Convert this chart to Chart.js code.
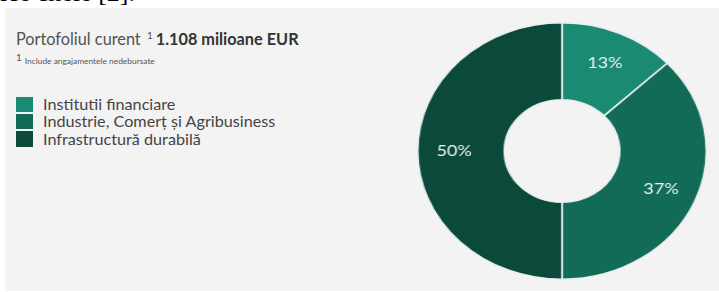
<!DOCTYPE html>
<html>
<head>
<meta charset="utf-8">
<script src="https://cdn.jsdelivr.net/npm/chart.js@4.4.0/dist/chart.umd.min.js"></script>
<style>
    html, body { margin: 0; padding: 0; background: #fff; }
    body { width: 719px; height: 292px; position: relative; overflow: hidden; font-family: Lato, sans-serif; }
    .top-text { position: absolute; left: 0; top: -22px; font: 26px/29px "Liberation Serif", serif; color: #000; white-space: nowrap; }
    .panel { position: absolute; left: 5px; top: 8px; width: 714px; height: 283px; background: #f3f3f3; }
    .title { position: absolute; left: 16px; top: 29px; font-size: 16.3px; color: #525252; white-space: nowrap; }
    .title sup { font-size: 10px; vertical-align: 6px; margin: 0 3px 0 2px; }
    .title b { color: #333; font-weight: 700; }
    .note { position: absolute; left: 16px; top: 51px; font-size: 8.4px; color: #555; white-space: nowrap; }
    .note sup { font-size: 10px; vertical-align: 3px; margin-right: 3px; }
    .legend { position: absolute; left: 16px; top: 95px; }
    .legend div { height: 17.3px; line-height: 17.3px; font-size: 16.2px; color: #444; white-space: nowrap; }
    .legend span { display: inline-block; width: 17px; height: 15.5px; vertical-align: -2px; margin-right: 10px; }
    .chart-box { position: absolute; left: 432.5px; top: 21.5px; width: 258px; height: 258px; transform: scaleX(1.125); transform-origin: 50% 50%; }
</style>
</head>
<body>
<div class="top-text">ice cheie [2].</div>
<div class="panel"></div>
<div class="title">Portofoliul curent <sup>1</sup><b>1.108 milioane EUR</b></div>
<div class="note"><sup>1</sup>Include angajamentele nedebursate</div>
<div class="legend" id="legend"></div>
<div class="chart-box"><canvas id="portfolio-chart" width="258" height="258"></canvas></div>
<script>
const categories = ['Institutii financiare', 'Industrie, Comerț și Agribusiness', 'Infrastructură durabilă'];
const shares = [13, 37, 50];
const sliceColors = ['#1a8b72', '#126b56', '#0b4a3b'];

// legend squares + names on the left
document.getElementById('legend').innerHTML = categories.map((name, i) =>
    `<div><span style="background:${sliceColors[i]}"></span>${name}</div>`
).join('');

// percent text in the middle of each ring slice
const sliceLabels = {
    id: 'sliceLabels',
    afterDatasetsDraw(chart) {
        const ctx = chart.ctx;
        const meta = chart.getDatasetMeta(0);
        ctx.save();
        ctx.font = '16px Lato, sans-serif';
        ctx.fillStyle = '#eef5f2';
        ctx.textAlign = 'center';
        ctx.textBaseline = 'middle';
        meta.data.forEach((arc, i) => {
            const p = arc.getProps(['x', 'y', 'startAngle', 'endAngle', 'innerRadius', 'outerRadius']);
            const mid = (p.startAngle + p.endAngle) / 2;
            const r = p.innerRadius + (p.outerRadius - p.innerRadius) * 0.58;
            ctx.fillText(shares[i] + '%', p.x + Math.cos(mid) * r, p.y + Math.sin(mid) * r);
        });
        ctx.restore();
    }
};

new Chart(document.getElementById('portfolio-chart'), {
    type: 'doughnut',
    data: {
        labels: categories,
        datasets: [{
            data: shares,
            backgroundColor: sliceColors,
            borderColor: '#e9efed',
            borderWidth: 1.5
        }]
    },
    options: {
        responsive: false,
        animation: false,
        cutout: '40%',
        layout: { padding: 0 },
        plugins: {
            legend: { display: false },
            tooltip: { enabled: false }
        }
    },
    plugins: [sliceLabels]
});
</script>
</body>
</html>
